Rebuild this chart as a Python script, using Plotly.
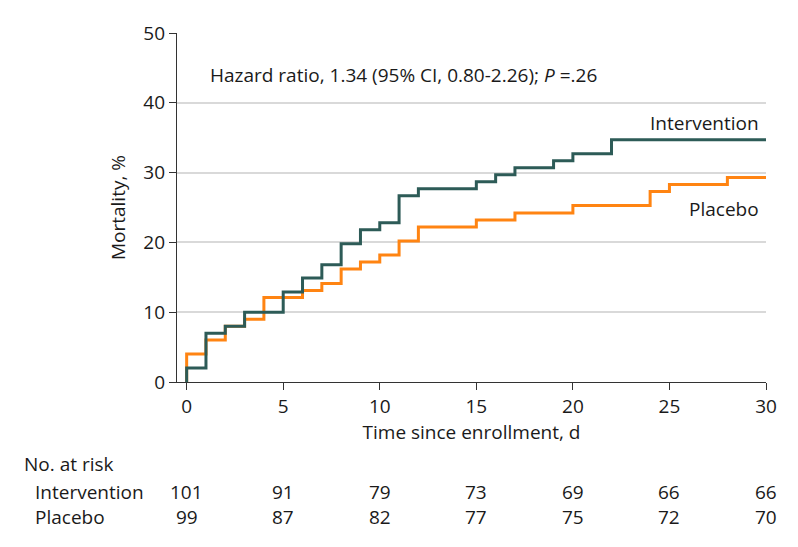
import plotly.graph_objects as go

# Data
int_days = [0, 0, 1, 2, 3, 5, 6, 7, 8, 9, 10, 11, 12, 15, 16, 17, 19, 20, 22, 30]
int_mort = [0, 2, 7, 8, 10, 12.9, 14.9, 16.8, 19.8, 21.8, 22.8, 26.7, 27.7, 28.7, 29.7, 30.7, 31.7, 32.7, 34.7, 34.7]
pla_days = [0, 0, 1, 2, 3, 4, 6, 7, 8, 9, 10, 11, 12, 15, 17, 20, 24, 25, 28, 30]
pla_mort = [0, 4, 6, 8, 9, 12.1, 13.1, 14.1, 16.2, 17.2, 18.2, 20.2, 22.2, 23.2, 24.2, 25.3, 27.3, 28.3, 29.3, 29.3]
risk_times = [0, 5, 10, 15, 20, 25, 30]
risk_int = [101, 91, 79, 73, 69, 66, 66]
risk_pla = [99, 87, 82, 77, 75, 72, 70]

TEAL = "#2D5B57"
ORANGE = "#FF8412"
FONT = "Open Sans"
FS = 19
TXT = "#1a1a1a"

def f():
    return dict(size=FS, color=TXT, family=FONT)

fig = go.Figure()
fig.add_trace(go.Scatter(x=pla_days, y=pla_mort, mode="lines", line=dict(color=ORANGE, width=3, shape="hv"), hoverinfo="skip"))
fig.add_trace(go.Scatter(x=int_days, y=int_mort, mode="lines", line=dict(color=TEAL, width=3, shape="hv"), hoverinfo="skip"))

row1 = (382 - 493) / 353
row2 = (382 - 519) / 353
annotations = [
    dict(x=1.1, y=44, xref="x", yref="y", text="Hazard ratio, 1.34 (95% CI, 0.80-2.26); <i>P</i> =.26",
         showarrow=False, xanchor="left", yanchor="middle", font=f()),
    dict(x=29.75, y=37.1, xref="x", yref="y", text="Intervention", showarrow=False,
         xanchor="right", yanchor="middle", font=f()),
    dict(x=29.75, y=24.8, xref="x", yref="y", text="Placebo", showarrow=False,
         xanchor="right", yanchor="middle", font=f()),
    dict(x=(22 - 177) / 589, y=(382 - 465) / 353, xref="paper", yref="paper", text="No. at risk", showarrow=False,
         xanchor="left", yanchor="middle", font=f()),
    dict(x=(33 - 177) / 589, y=row1, xref="paper", yref="paper", text="Intervention", showarrow=False,
         xanchor="left", yanchor="middle", font=f()),
    dict(x=(33 - 177) / 589, y=row2, xref="paper", yref="paper", text="Placebo", showarrow=False,
         xanchor="left", yanchor="middle", font=f()),
]
for t, a, b in zip(risk_times, risk_int, risk_pla):
    annotations.append(dict(x=t, y=row1, xref="x", yref="paper", text=str(a), showarrow=False,
                            xanchor="center", yanchor="middle", font=f()))
    annotations.append(dict(x=t, y=row2, xref="x", yref="paper", text=str(b), showarrow=False,
                            xanchor="center", yanchor="middle", font=f()))

fig.update_layout(
    width=790, height=539,
    margin=dict(l=169, r=32, t=21, b=165),
    paper_bgcolor="white", plot_bgcolor="white",
    showlegend=False,
    font=f(),
    annotations=annotations,
    xaxis=dict(range=[-0.5, 30], tickvals=[0, 5, 10, 15, 20, 25, 30], showgrid=False, zeroline=False,
               showline=True, linecolor="#333", linewidth=1.2, ticks="outside", ticklen=7, tickcolor="#333",
               tickfont=f(),
               title=dict(text="Time since enrollment, d", font=f(), standoff=6)),
    yaxis=dict(range=[0, 50], tickvals=[0, 10, 20, 30, 40, 50], showgrid=True, gridcolor="#d9d9d9", gridwidth=1.5,
               zeroline=False, showline=True, linecolor="#333", linewidth=1.2, ticks="outside", ticklen=7,
               tickcolor="#333", tickfont=f(),
               title=dict(text="Mortality, %", font=f(), standoff=12)),
)

fig.write_html("out.html")
